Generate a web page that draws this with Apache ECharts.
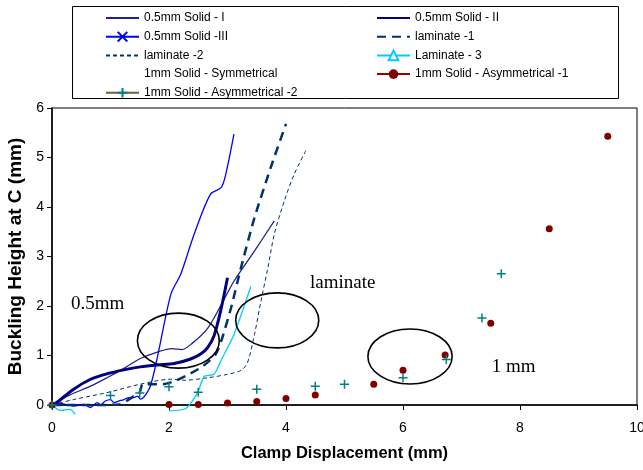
<!DOCTYPE html>
<html><head><meta charset="utf-8">
<script src="https://cdn.jsdelivr.net/npm/echarts@6/dist/echarts.min.js"></script>
<style>html,body{margin:0;padding:0;background:#fff}#c{width:643px;height:470px}</style>
</head><body><div id="c"></div>
<script>
// ---- data (x = clamp displacement mm, y = buckling height mm) ----
const xTickValues = [0, 2, 4, 6, 8, 10];
const yTickValues = [0, 1, 2, 3, 4, 5, 6];

const solid05_I = [[0,0],[0.3,0.2],[0.66,0.38],[0.94,0.55],[1.23,0.74],[1.51,0.94],[1.8,1.07],[2.05,1.14],[2.22,1.12],[2.4,1.25],[2.66,1.55],[2.89,2.02],[3.11,2.5],[3.46,3.11],[3.8,3.72]];
const solid05_II = [[0,0],[0.06,0.03],[0.37,0.32],[0.66,0.52],[0.94,0.63],[1.23,0.71],[1.51,0.77],[1.8,0.81],[2.09,0.84],[2.37,0.93],[2.54,1.03],[2.66,1.16],[2.77,1.4],[2.89,1.94],[3.0,2.57]];
const solid05_III = [[0,0],[0.06,0.05],[0.37,-0.02],[0.54,0.01],[0.66,-0.05],[0.77,0.05],[0.83,0],[0.91,0.08],[1.0,0.11],[1.06,0.05],[1.14,0.08],[1.23,0.11],[1.31,0.15],[1.4,0.15],[1.46,0.18],[1.51,0.12],[1.69,0.41],[2.03,2.23],[2.2,2.64],[2.43,3.45],[2.71,4.26],[2.89,4.39],[2.97,4.66],[3.11,5.47]];
const laminate_1 = [[0,0],[0.6,0],[1.15,0.01],[1.4,0.18],[1.5,0.26],[1.55,0.42],[1.9,0.42],[2.09,0.48],[2.37,0.64],[2.55,0.76],[2.7,0.9],[2.8,1.03],[2.89,1.28],[3.06,1.96],[3.23,2.77],[3.46,3.78],[3.74,4.8],[4.0,5.68]];
const laminate_2 = [[0,0],[0.37,0.11],[0.94,0.25],[1.51,0.42],[2.03,0.52],[2.26,0.5],[2.66,0.55],[3.0,0.62],[3.23,0.7],[3.34,0.85],[3.46,1.42],[3.57,2.09],[3.69,2.77],[3.8,3.45],[3.97,4.12],[4.14,4.66],[4.34,5.14]];
const laminate_3 = [[0,0],[0.14,-0.11],[0.31,-0.09],[0.4,-0.19],[1.2,'-'],[2.0,-0.12],[2.29,-0.07],[2.49,0.25],[2.6,0.58],[2.77,0.62],[2.91,0.95],[3.11,1.42],[3.4,2.4]];
const solid1_sym = [];
const solid1_asym1 = [[0,0],[2,0.01],[2.5,0.01],[3,0.04],[3.5,0.07],[4,0.13],[4.5,0.2],[5.5,0.42],[6,0.7],[6.72,1.01],[7.5,1.65],[8.5,3.56],[9.5,5.43]];
const solid1_asym2 = [[0,0],[1,0.19],[1.5,0.24],[2,0.37],[2.5,0.26],[3.5,0.32],[4.5,0.38],[5,0.42],[6,0.55],[6.74,0.92],[7.35,1.76],[7.68,2.65]];

const noteTexts = ['0.5mm', 'laminate', '1 mm'];
const noteX = [0.78, 4.97, 7.89];
const noteY = [2.04, 2.46, 0.77];
const ellipseCX = [2.16, 3.85, 6.12];
const ellipseCY = [1.30, 1.71, 0.98];
const ellipseRX = [0.70, 0.71, 0.72];
const ellipseRY = [0.556, 0.556, 0.556];

// ---- chart ----
const SANS = 'Liberation Sans, Arial, sans-serif';
const SERIF = 'Liberation Serif, Times New Roman, serif';
const SYM_PLUS = 'path://M5,0L5,10M0,5L10,5';
const SYM_X = 'path://M0,0L10,10M10,0L0,10';

function line(name, data, color, width, dash, smooth) {
  return {
    name, type: 'line', data, clip: false, smooth: smooth,
    symbol: 'none', showSymbol: false, connectNulls: false,
    lineStyle: { color, width, type: dash || 'solid' },
    itemStyle: { color },
    emphasis: { disabled: true }, animation: false
  };
}

const series = [
  line('0.5mm Solid - I', solid05_I, '#1f1f99', 1.3, null, 0.3),
  line('0.5mm Solid - II', solid05_II, '#000080', 3, null, 0.3),
  Object.assign(line('0.5mm Solid -III', solid05_III, '#0000ff', 1.3, null, 0.3), {
    symbol: SYM_X, symbolSize: 8,
    itemStyle: { color: '#0000ff', borderColor: '#0000ff', borderWidth: 1.5 }
  }),
  line('laminate -1', laminate_1, '#003366', 2.5, [9, 6], 0.2),
  line('laminate -2', laminate_2, '#003366', 1, [4, 3], 0.3),
  Object.assign(line('Laminate - 3', laminate_3, '#00ccff', 1.3, null, 0.2), {
    symbol: 'emptyTriangle', symbolSize: 8
  }),
  line('1mm Solid - Symmetrical', solid1_sym, '#ffffff', 0, null, false),
  {
    name: '1mm Solid - Asymmetrical -1', type: 'line', data: solid1_asym1, clip: false,
    symbol: 'circle', symbolSize: 7, showSymbol: true,
    itemStyle: { color: '#800000' },
    lineStyle: { color: '#990000', width: 2, opacity: 0 },
    emphasis: { disabled: true }, animation: false
  },
  {
    name: '1mm Solid - Asymmetrical -2', type: 'line', data: solid1_asym2, clip: false,
    symbol: SYM_PLUS, symbolSize: 9, showSymbol: true,
    itemStyle: { color: '#008080', borderColor: '#008080', borderWidth: 1.5 },
    lineStyle: { color: '#666633', width: 2, opacity: 0 },
    emphasis: { disabled: true }, animation: false
  }
];

const legendCommon = {
  orient: 'vertical', top: 7, itemWidth: 33, itemHeight: 12, itemGap: 6.7,
  selectedMode: false,
  textStyle: { fontFamily: SANS, fontSize: 12, color: '#000' }
};

const chart = echarts.init(document.getElementById('c'), null, { renderer: 'canvas' });
chart.setOption({
  animation: false,
  backgroundColor: '#fff',
  grid: { left: 52, right: 6, top: 108, bottom: 65, show: true, borderColor: '#000', borderWidth: 1,
          backgroundColor: 'transparent', containLabel: false, outerBoundsMode: 'none' },
  xAxis: {
    type: 'value', min: xTickValues[0], max: xTickValues[xTickValues.length - 1], interval: xTickValues[1] - xTickValues[0],
    axisLine: { lineStyle: { color: '#000', width: 1.5 } },
    axisTick: { show: true, inside: false, length: 5, lineStyle: { color: '#000' } },
    splitLine: { show: false },
    axisLabel: { fontFamily: SANS, fontSize: 14, color: '#000', margin: 16 },
    name: 'Clamp Displacement (mm)', nameLocation: 'middle', nameGap: 40,
    nameTextStyle: { fontFamily: SANS, fontSize: 16.5, fontWeight: 'bold', color: '#000' }
  },
  yAxis: {
    type: 'value', min: yTickValues[0], max: yTickValues[yTickValues.length - 1], interval: yTickValues[1] - yTickValues[0],
    axisLine: { lineStyle: { color: '#000', width: 1.5 } },
    axisTick: { show: true, inside: false, length: 5, lineStyle: { color: '#000' } },
    splitLine: { show: false },
    axisLabel: { fontFamily: SANS, fontSize: 14, color: '#000', margin: 8 },
    name: 'Buckling Height at C (mm)', nameLocation: 'middle', nameGap: 26,
    nameTextStyle: { fontFamily: SANS, fontSize: 19, fontWeight: 'bold', color: '#000' }
  },
  legend: [
    Object.assign({}, legendCommon, {
      left: 100,
      data: [
        { name: '0.5mm Solid - I', itemStyle: { opacity: 0 } },
        { name: '0.5mm Solid -III' },
        { name: 'laminate -2', itemStyle: { opacity: 0 } },
        { name: '1mm Solid - Symmetrical', itemStyle: { opacity: 0 }, lineStyle: { opacity: 0 } },
        { name: '1mm Solid - Asymmetrical -2', lineStyle: { opacity: 1 } }
      ]
    }),
    Object.assign({}, legendCommon, {
      left: 371,
      data: [
        { name: '0.5mm Solid - II', itemStyle: { opacity: 0 } },
        { name: 'laminate -1', itemStyle: { opacity: 0 } },
        { name: 'Laminate - 3' },
        { name: '1mm Solid - Asymmetrical -1', lineStyle: { opacity: 1 } }
      ]
    })
  ],
  series
});

// annotations (ellipses + labels) placed via the axis scales
const g = [{
  type: 'rect', shape: { x: 72.5, y: 6.5, width: 546, height: 92 },
  style: { fill: 'none', stroke: '#000', lineWidth: 1 }, z: 10
}];
for (let i = 0; i < ellipseCX.length; i++) {
  const c = chart.convertToPixel({ gridIndex: 0 }, [ellipseCX[i], ellipseCY[i]]);
  const e = chart.convertToPixel({ gridIndex: 0 }, [ellipseCX[i] + ellipseRX[i], ellipseCY[i] + ellipseRY[i]]);
  g.push({ type: 'ellipse', shape: { cx: c[0], cy: c[1], rx: Math.abs(e[0] - c[0]), ry: Math.abs(e[1] - c[1]) },
    style: { fill: 'none', stroke: '#000', lineWidth: 1.6 }, z: 20 });
}
for (let i = 0; i < noteTexts.length; i++) {
  const p = chart.convertToPixel({ gridIndex: 0 }, [noteX[i], noteY[i]]);
  g.push({ type: 'text', x: p[0], y: p[1], z: 20,
    style: { text: noteTexts[i], fontFamily: SERIF, fontSize: 19, fill: '#000', align: 'center', verticalAlign: 'middle' } });
}
chart.setOption({ graphic: g });
</script>
</body></html>
